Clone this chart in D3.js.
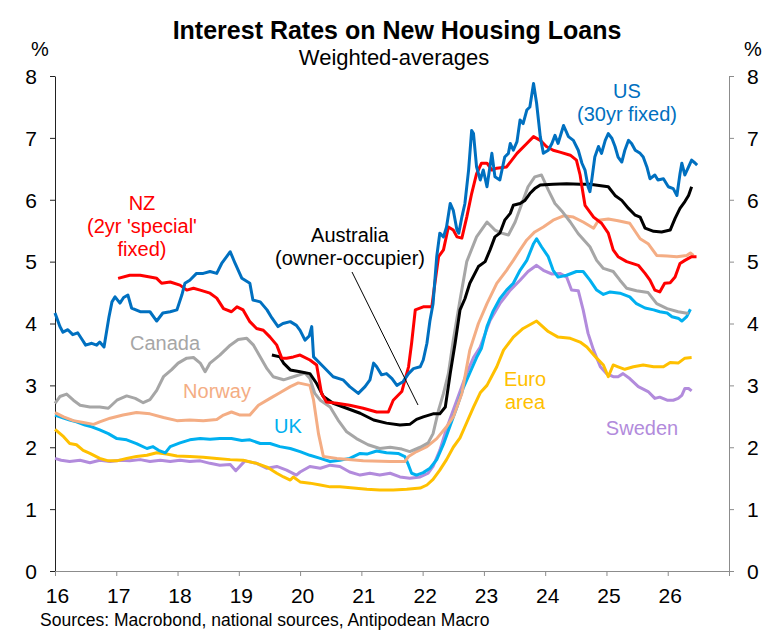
<!DOCTYPE html>
<html>
<head>
<meta charset="utf-8">
<script src="https://d3js.org/d3.v7.min.js"></script>
<style>
  body { margin: 0; background: #fff; }
  text { font-family: "Liberation Sans", Arial, Helvetica, sans-serif; }
</style>
</head>
<body>
<script>
// --- data: [year (16 = Jan 2016), rate %] ---
var usRates = [[16.0,4.17],[16.08,3.95],[16.13,3.86],[16.21,3.9],[16.29,3.82],[16.37,3.85],[16.45,3.73],[16.5,3.65],[16.6,3.68],[16.68,3.65],[16.73,3.7],[16.8,3.62],[16.88,4.1],[16.93,4.35],[16.98,4.43],[17.06,4.33],[17.12,4.42],[17.19,4.46],[17.25,4.25],[17.39,4.19],[17.55,4.19],[17.66,4.04],[17.76,4.17],[17.88,4.19],[17.99,4.22],[18.07,4.46],[18.12,4.65],[18.2,4.7],[18.31,4.81],[18.42,4.81],[18.53,4.84],[18.64,4.81],[18.72,4.97],[18.86,5.16],[18.94,4.97],[19.05,4.73],[19.18,4.65],[19.23,4.38],[19.35,4.35],[19.46,4.22],[19.54,4.09],[19.64,3.95],[19.72,4.0],[19.84,4.03],[19.94,3.97],[20.0,3.89],[20.08,3.73],[20.15,3.8],[20.19,3.95],[20.22,3.46],[20.38,3.3],[20.54,3.14],[20.7,3.09],[20.81,2.98],[20.95,2.87],[21.06,2.98],[21.14,3.09],[21.2,3.36],[21.25,3.3],[21.33,3.17],[21.41,3.19],[21.5,3.11],[21.58,3.0],[21.63,3.03],[21.68,3.06],[21.77,3.19],[21.85,3.27],[21.96,3.3],[22.01,3.41],[22.07,3.68],[22.12,4.05],[22.17,4.32],[22.23,5.08],[22.28,5.46],[22.34,5.4],[22.39,5.56],[22.45,5.94],[22.5,5.83],[22.56,5.51],[22.59,5.46],[22.64,5.72],[22.69,5.94],[22.75,6.48],[22.8,7.12],[22.83,7.07],[22.88,6.53],[22.94,6.32],[22.99,6.48],[23.05,6.21],[23.13,6.75],[23.18,6.37],[23.26,6.32],[23.34,6.69],[23.4,6.75],[23.43,6.91],[23.48,6.8],[23.54,6.94],[23.59,7.29],[23.64,7.23],[23.7,7.45],[23.75,7.5],[23.81,7.88],[23.86,7.56],[23.92,7.02],[23.97,6.75],[24.05,6.8],[24.11,6.91],[24.16,7.04],[24.21,6.91],[24.3,7.2],[24.38,7.02],[24.46,6.96],[24.54,6.8],[24.6,6.59],[24.65,6.48],[24.7,6.21],[24.73,6.13],[24.76,6.32],[24.81,6.69],[24.87,6.86],[24.92,6.75],[24.98,6.96],[25.03,7.07],[25.09,6.99],[25.14,6.86],[25.19,6.69],[25.25,6.61],[25.3,6.8],[25.36,6.96],[25.41,6.91],[25.47,6.8],[25.55,6.75],[25.6,6.69],[25.66,6.53],[25.71,6.34],[25.79,6.4],[25.84,6.32],[25.93,6.34],[26.01,6.21],[26.09,6.18],[26.15,6.07],[26.2,6.42],[26.23,6.59],[26.28,6.4],[26.34,6.53],[26.39,6.64],[26.45,6.59],[26.48,6.56]];

var nzRates = [[17.03,4.73],[17.22,4.78],[17.39,4.78],[17.55,4.75],[17.66,4.73],[17.74,4.65],[17.88,4.67],[18.04,4.62],[18.15,4.54],[18.26,4.57],[18.37,4.54],[18.53,4.49],[18.64,4.41],[18.75,4.24],[18.88,4.19],[18.97,4.27],[19.07,4.22],[19.18,4.03],[19.29,3.92],[19.4,3.89],[19.51,3.78],[19.62,3.65],[19.7,3.44],[19.78,3.44],[19.89,3.46],[20.0,3.49],[20.16,3.41],[20.27,3.33],[20.35,2.87],[20.43,2.73],[20.6,2.71],[20.81,2.68],[21.03,2.63],[21.25,2.57],[21.44,2.57],[21.52,2.76],[21.6,2.84],[21.66,2.9],[21.77,3.3],[21.82,3.68],[21.88,4.22],[22.01,4.27],[22.15,4.27],[22.2,4.65],[22.26,5.08],[22.34,5.19],[22.42,5.56],[22.5,5.51],[22.56,5.4],[22.64,5.38],[22.72,5.72],[22.8,6.1],[22.88,6.42],[22.96,6.59],[23.05,6.59],[23.13,6.48],[23.21,6.51],[23.37,6.53],[23.54,6.75],[23.7,6.91],[23.81,7.02],[23.92,6.96],[24.02,6.86],[24.13,6.8],[24.24,6.77],[24.41,6.72],[24.51,6.64],[24.57,6.4],[24.6,6.21],[24.65,5.91],[24.79,5.72],[24.92,5.62],[25.03,5.46],[25.11,5.19],[25.19,5.08],[25.33,5.0],[25.52,4.94],[25.63,4.81],[25.71,4.7],[25.79,4.54],[25.87,4.51],[25.95,4.65],[26.04,4.66],[26.12,4.75],[26.2,4.97],[26.28,5.02],[26.39,5.08],[26.47,5.08]];

var ausRates = [[19.54,3.49],[19.67,3.46],[19.73,3.36],[19.84,3.25],[20.0,3.22],[20.16,3.19],[20.27,3.03],[20.38,2.82],[20.54,2.71],[20.76,2.63],[20.98,2.55],[21.2,2.44],[21.41,2.39],[21.63,2.36],[21.79,2.37],[21.9,2.45],[22.01,2.49],[22.17,2.54],[22.28,2.54],[22.37,2.65],[22.45,3.19],[22.53,3.68],[22.61,4.22],[22.69,4.4],[22.77,4.65],[22.91,4.92],[23.02,5.0],[23.1,5.19],[23.18,5.4],[23.26,5.46],[23.34,5.67],[23.43,5.78],[23.48,5.91],[23.59,5.94],[23.67,5.99],[23.75,6.1],[23.83,6.18],[23.92,6.24],[24.13,6.25],[24.35,6.26],[24.57,6.25],[24.73,6.25],[25.03,6.21],[25.14,6.07],[25.25,5.99],[25.36,5.86],[25.47,5.75],[25.55,5.72],[25.63,5.54],[25.77,5.49],[25.9,5.48],[26.04,5.51],[26.12,5.7],[26.2,5.86],[26.28,5.97],[26.34,6.07],[26.39,6.21]];

var canadaRates = [[16.0,2.71],[16.08,2.82],[16.19,2.86],[16.3,2.76],[16.41,2.68],[16.57,2.65],[16.73,2.65],[16.87,2.63],[17.01,2.76],[17.17,2.83],[17.31,2.79],[17.44,2.72],[17.55,2.77],[17.66,2.92],[17.77,3.14],[17.9,3.25],[18.01,3.36],[18.15,3.44],[18.26,3.45],[18.37,3.36],[18.45,3.22],[18.53,3.36],[18.69,3.49],[18.86,3.65],[18.99,3.74],[19.13,3.76],[19.24,3.65],[19.35,3.46],[19.46,3.27],[19.56,3.14],[19.73,3.09],[19.89,3.14],[20.08,3.2],[20.16,3.11],[20.24,2.87],[20.33,2.76],[20.49,2.65],[20.62,2.44],[20.76,2.25],[20.92,2.14],[21.11,2.04],[21.3,1.98],[21.47,2.0],[21.66,1.97],[21.79,1.93],[21.96,2.0],[22.09,2.07],[22.17,2.22],[22.26,2.6],[22.34,2.87],[22.42,3.19],[22.5,3.73],[22.61,4.38],[22.72,5.0],[22.88,5.4],[23.05,5.64],[23.18,5.51],[23.29,5.46],[23.4,5.43],[23.51,5.64],[23.62,5.94],[23.72,6.21],[23.83,6.37],[23.94,6.4],[24.05,6.16],[24.16,5.94],[24.27,5.82],[24.41,5.64],[24.54,5.45],[24.73,5.24],[24.84,5.02],[24.95,4.89],[25.11,4.84],[25.22,4.7],[25.33,4.57],[25.49,4.53],[25.68,4.5],[25.82,4.32],[25.99,4.24],[26.17,4.19],[26.34,4.16]];

var norwayRates = [[16.0,2.56],[16.14,2.49],[16.3,2.43],[16.46,2.4],[16.63,2.37],[16.73,2.41],[16.9,2.47],[17.11,2.52],[17.33,2.56],[17.55,2.54],[17.77,2.48],[17.99,2.43],[18.2,2.44],[18.42,2.43],[18.64,2.45],[18.75,2.52],[18.88,2.57],[19.02,2.52],[19.18,2.52],[19.32,2.68],[19.51,2.79],[19.67,2.88],[19.84,2.98],[19.97,3.04],[20.16,3.0],[20.22,2.76],[20.3,2.22],[20.38,1.85],[20.6,1.82],[21.03,1.78],[21.47,1.77],[21.71,1.77],[21.77,1.85],[21.9,1.93],[22.07,2.01],[22.23,2.14],[22.39,2.33],[22.5,2.49],[22.64,2.87],[22.77,3.57],[22.91,4.0],[23.05,4.32],[23.21,4.65],[23.37,4.86],[23.48,5.02],[23.59,5.19],[23.7,5.35],[23.83,5.48],[23.97,5.56],[24.13,5.67],[24.3,5.74],[24.46,5.72],[24.62,5.64],[24.79,5.54],[24.87,5.67],[25.03,5.69],[25.19,5.66],[25.38,5.62],[25.55,5.37],[25.68,5.29],[25.82,5.1],[25.99,5.09],[26.15,5.08],[26.31,5.1],[26.37,5.14],[26.42,5.1]];

var ukRates = [[16.0,2.52],[16.14,2.47],[16.24,2.44],[16.35,2.41],[16.49,2.36],[16.6,2.33],[16.73,2.28],[16.87,2.22],[17.01,2.14],[17.17,2.12],[17.33,2.06],[17.5,1.98],[17.6,2.01],[17.69,1.95],[17.8,1.91],[17.88,2.01],[18.04,2.07],[18.2,2.12],[18.37,2.14],[18.53,2.13],[18.69,2.14],[18.88,2.14],[19.05,2.11],[19.18,2.12],[19.35,2.06],[19.51,2.06],[19.67,2.01],[19.84,1.98],[20.0,1.93],[20.16,1.87],[20.33,1.82],[20.49,1.77],[20.65,1.79],[20.81,1.82],[20.98,1.9],[21.09,1.89],[21.25,1.94],[21.41,1.91],[21.6,1.9],[21.71,1.85],[21.77,1.71],[21.82,1.58],[21.9,1.55],[22.01,1.59],[22.12,1.66],[22.23,1.8],[22.34,2.05],[22.45,2.35],[22.56,2.65],[22.66,2.95],[22.77,3.2],[22.88,3.45],[22.96,3.6],[23.05,3.95],[23.15,4.2],[23.26,4.4],[23.37,4.54],[23.48,4.65],[23.59,4.86],[23.7,5.02],[23.81,5.29],[23.86,5.37],[23.94,5.24],[24.05,5.08],[24.13,4.86],[24.21,4.75],[24.35,4.78],[24.51,4.84],[24.62,4.84],[24.73,4.7],[24.84,4.54],[24.95,4.47],[25.06,4.51],[25.22,4.49],[25.38,4.43],[25.49,4.32],[25.63,4.25],[25.77,4.22],[25.87,4.19],[25.99,4.17],[26.07,4.11],[26.18,4.08],[26.23,4.04],[26.31,4.11],[26.37,4.23]];

var euroRates = [[16.0,2.29],[16.14,2.17],[16.24,2.06],[16.35,2.04],[16.46,1.95],[16.57,1.9],[16.73,1.82],[16.87,1.78],[17.01,1.78],[17.17,1.82],[17.33,1.85],[17.5,1.87],[17.66,1.91],[17.82,1.89],[17.99,1.86],[18.2,1.85],[18.42,1.84],[18.64,1.82],[18.86,1.8],[19.07,1.79],[19.29,1.74],[19.46,1.68],[19.62,1.58],[19.73,1.52],[19.84,1.47],[19.89,1.52],[20.0,1.44],[20.16,1.42],[20.33,1.39],[20.49,1.36],[20.65,1.36],[20.87,1.34],[21.09,1.32],[21.3,1.31],[21.52,1.31],[21.74,1.32],[21.96,1.34],[22.07,1.39],[22.17,1.48],[22.28,1.63],[22.39,1.8],[22.5,2.0],[22.61,2.15],[22.72,2.4],[22.83,2.65],[22.94,2.88],[23.05,3.0],[23.21,3.3],[23.32,3.57],[23.48,3.78],[23.64,3.92],[23.86,4.04],[24.05,3.87],[24.21,3.78],[24.41,3.76],[24.57,3.7],[24.68,3.62],[24.84,3.44],[24.95,3.33],[25.03,3.14],[25.11,3.33],[25.19,3.3],[25.3,3.26],[25.44,3.3],[25.6,3.33],[25.77,3.3],[25.93,3.3],[26.04,3.37],[26.17,3.36],[26.28,3.44],[26.39,3.45]];

var swedenRates = [[16.0,1.82],[16.1,1.79],[16.24,1.77],[16.41,1.79],[16.57,1.75],[16.73,1.79],[16.9,1.77],[17.06,1.79],[17.22,1.78],[17.39,1.8],[17.55,1.77],[17.72,1.79],[17.88,1.77],[18.04,1.79],[18.2,1.77],[18.37,1.78],[18.53,1.74],[18.69,1.71],[18.86,1.72],[18.95,1.62],[19.1,1.78],[19.29,1.74],[19.46,1.66],[19.62,1.69],[19.78,1.63],[19.94,1.55],[20.0,1.6],[20.16,1.69],[20.33,1.66],[20.49,1.71],[20.65,1.69],[20.81,1.6],[20.98,1.55],[21.14,1.58],[21.3,1.55],[21.47,1.58],[21.63,1.52],[21.79,1.5],[21.96,1.52],[22.09,1.58],[22.17,1.69],[22.28,1.95],[22.39,2.3],[22.5,2.6],[22.61,2.9],[22.72,3.2],[22.83,3.45],[22.94,3.62],[23.1,4.05],[23.26,4.32],[23.43,4.54],[23.59,4.7],[23.72,4.84],[23.86,4.94],[23.97,4.86],[24.11,4.8],[24.24,4.81],[24.35,4.75],[24.43,4.54],[24.54,4.53],[24.62,4.22],[24.7,3.84],[24.79,3.57],[24.9,3.3],[25.0,3.19],[25.11,3.14],[25.19,3.14],[25.27,3.19],[25.38,3.11],[25.52,2.98],[25.68,2.9],[25.79,2.79],[25.87,2.81],[25.99,2.76],[26.09,2.76],[26.17,2.79],[26.23,2.84],[26.28,2.95],[26.34,2.95],[26.39,2.91]];

var yearTicks = [16, 17, 18, 19, 20, 21, 22, 23, 24, 25, 26, 27];
var rateTicks = [0, 1, 2, 3, 4, 5, 6, 7, 8];

// drawing order back to front
var series = [
  { name: "Sweden", values: swedenRates, color: "#b28bdc" },
  { name: "Euro area", values: euroRates, color: "#ffc000" },
  { name: "UK", values: ukRates, color: "#00b0f0" },
  { name: "Norway", values: norwayRates, color: "#f4ad84" },
  { name: "Canada", values: canadaRates, color: "#a6a6a6" },
  { name: "Australia", values: ausRates, color: "#000000" },
  { name: "NZ", values: nzRates, color: "#ff0000" },
  { name: "US", values: usRates, color: "#0070c0" }
];

var labels = [
  { lines: ["NZ", "(2yr 'special'", "fixed)"], x: 142, y: 210, color: "#ff0000" },
  { lines: ["Australia", "(owner-occupier)"], x: 350, y: 242, color: "#000000" },
  { lines: ["Canada"], x: 165, y: 350, color: "#a6a6a6" },
  { lines: ["Norway"], x: 217, y: 398, color: "#f4ad84" },
  { lines: ["UK"], x: 288, y: 433, color: "#00b0f0" },
  { lines: ["Euro", "area"], x: 525, y: 386, color: "#ffc000" },
  { lines: ["Sweden"], x: 642, y: 435, color: "#b28bdc" },
  { lines: ["US", "(30yr fixed)"], x: 627, y: 98, color: "#0070c0" }
];

var W = 775, H = 640;
var plotLeft = 55, plotRight = 729, plotTop = 76, plotBottom = 571;

var svg = d3.select("body").append("svg")
  .attr("width", W)
  .attr("height", H);

var x = d3.scaleLinear().domain([16, 27]).range([plotLeft, plotRight]);
var y = d3.scaleLinear().domain([0, 8]).range([plotBottom, plotTop]);

// titles
svg.append("text")
  .attr("x", 397).attr("y", 39)
  .attr("text-anchor", "middle")
  .style("font-size", "25px").style("font-weight", "bold")
  .text("Interest Rates on New Housing Loans");

svg.append("text")
  .attr("x", 394).attr("y", 65)
  .attr("text-anchor", "middle")
  .style("font-size", "22px")
  .text("Weighted-averages");

svg.append("text").attr("x", 40).attr("y", 56).attr("text-anchor", "middle")
  .style("font-size", "20px").text("%");
svg.append("text").attr("x", 753).attr("y", 56).attr("text-anchor", "middle")
  .style("font-size", "20px").text("%");

// axes
var yLeft = svg.append("g")
  .attr("transform", "translate(" + plotLeft + ",0)")
  .call(d3.axisLeft(y).tickValues(rateTicks).tickSize(5).tickPadding(13).tickSizeOuter(0));

var yRight = svg.append("g")
  .attr("transform", "translate(" + plotRight + ",0)")
  .call(d3.axisRight(y).tickValues(rateTicks).tickSize(5).tickPadding(13).tickSizeOuter(0));

var xAxis = svg.append("g")
  .attr("transform", "translate(0," + plotBottom + ")")
  .call(d3.axisBottom(x).tickValues(yearTicks).tickSize(5).tickPadding(8).tickSizeOuter(0)
    .tickFormat(function (d) { return d < 27 ? d : ""; }));

svg.selectAll(".tick text").style("font-size", "21px").style("font-family", "'Liberation Sans', Arial, sans-serif").attr("fill", "#000");
yLeft.selectAll("path, line").attr("stroke", "#222");
yRight.selectAll("path, line").attr("stroke", "#8c8c8c");
xAxis.selectAll("path, line").attr("stroke", "#8c8c8c");
xAxis.selectAll(".tick text").attr("dy", "0.9em").attr("dx", 2);
yLeft.selectAll(".tick text").attr("dy", "0.35em");
yRight.selectAll(".tick text").attr("dy", "0.35em");

// lines
var line = d3.line()
  .x(function (d) { return x(d[0]); })
  .y(function (d) { return y(d[1]); });

svg.append("g").selectAll("path")
  .data(series)
  .enter().append("path")
    .attr("fill", "none")
    .attr("stroke", function (d) { return d.color; })
    .attr("stroke-width", 3)
    .attr("stroke-linejoin", "round")
    .attr("d", function (d) { return line(d.values); });

// Australia leader line
svg.append("line")
  .attr("x1", 352).attr("y1", 272)
  .attr("x2", 418).attr("y2", 405)
  .attr("stroke", "#000").attr("stroke-width", 1);

// series labels
labels.forEach(function (l) {
  var t = svg.append("text")
    .attr("text-anchor", "middle")
    .attr("fill", l.color)
    .style("font-size", "20px");
  l.lines.forEach(function (s, i) {
    t.append("tspan").attr("x", l.x).attr("y", l.y + i * 23).text(s);
  });
});

svg.append("text")
  .attr("x", 40).attr("y", 626)
  .style("font-size", "17.5px")
  .text("Sources: Macrobond, national sources, Antipodean Macro");
</script>
</body>
</html>
